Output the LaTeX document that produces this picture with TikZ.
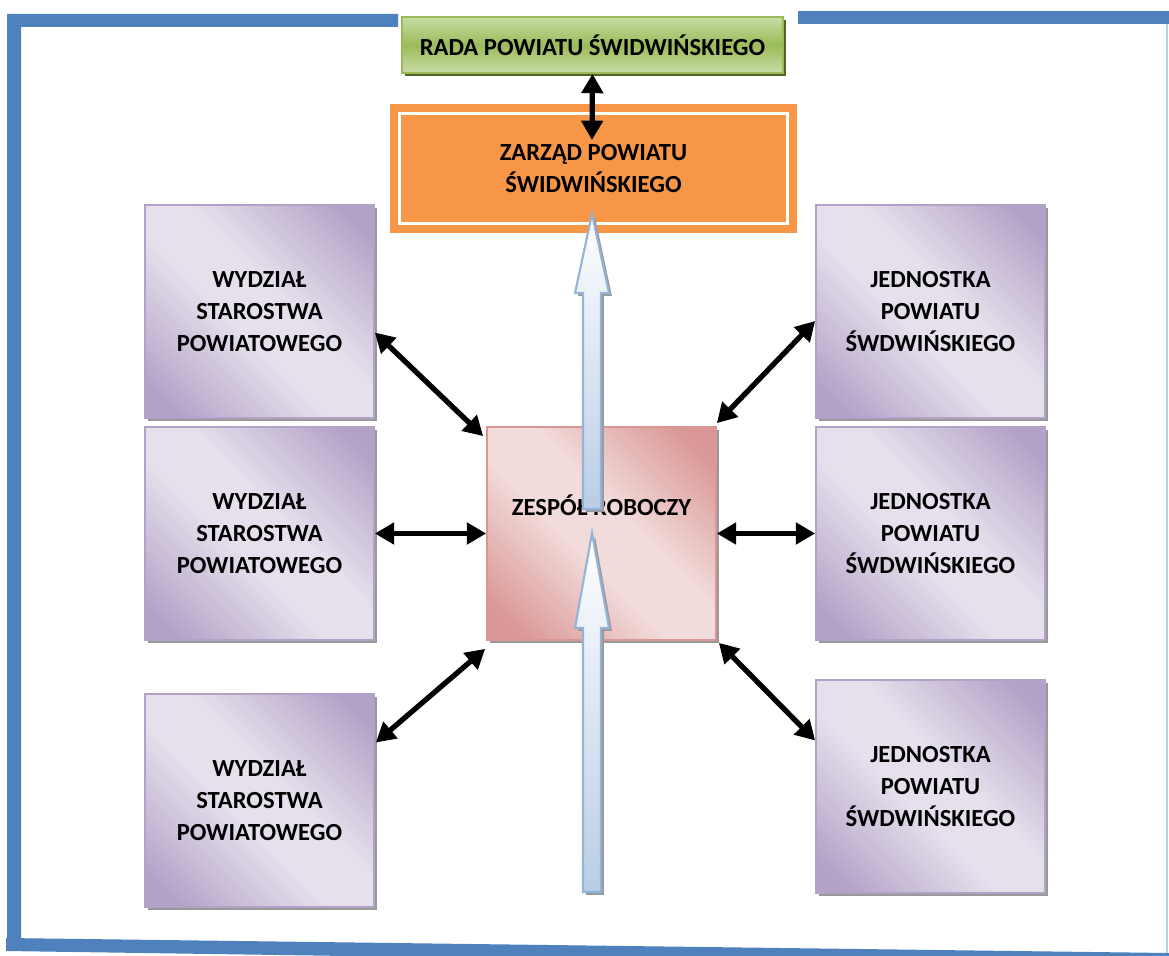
\documentclass[tikz,border=0pt]{standalone}
\usepackage{fontspec}
\setmainfont{Carlito}
\usepackage{tikz}
\usetikzlibrary{arrows.meta, shadows}

\definecolor{frameblue}{HTML}{4F81BD}
\definecolor{framelight}{HTML}{B9CDE5}
\definecolor{lilacdark}{HTML}{B3A2C7}
\definecolor{lilaclight}{HTML}{E5E0EC}
\definecolor{rosedark}{HTML}{D99694}
\definecolor{roselight}{HTML}{F2DCDB}
\definecolor{leafdark}{HTML}{9BBB59}
\definecolor{leaflight}{HTML}{C9DCA6}
\definecolor{leafshadow}{HTML}{4F6228}
\definecolor{boardorange}{HTML}{F79646}
\definecolor{arrowline}{HTML}{95B3D7}
\definecolor{arrowfill}{HTML}{B9CDE5}

\pgfdeclarehorizontalshading{lilacband}{100bp}{color(0bp)=(lilacdark); color(20bp)=(lilacdark); color(44bp)=(lilaclight); color(56bp)=(lilaclight); color(80bp)=(lilacdark); color(100bp)=(lilacdark)}
\pgfdeclarehorizontalshading{roseband}{100bp}{color(0bp)=(rosedark); color(20bp)=(rosedark); color(44bp)=(roselight); color(56bp)=(roselight); color(80bp)=(rosedark); color(100bp)=(rosedark)}

\begin{document}
\begin{tikzpicture}[x=0.02cm, y=-0.02cm]
	\useasboundingbox (0,0) rectangle (1169,956);
	\tikzstyle{label}=[font=\bfseries\fontsize{14}{18}\selectfont, align=center]
	\tikzstyle{unit}=[label, rectangle, minimum width=4.58cm, minimum height=4.26cm, draw=lilacdark, line width=1pt, shade, shading=lilacband, shading angle=45, drop shadow={shadow xshift=1.7pt, shadow yshift=-1.7pt, fill=black!40, opacity=1}]
	\tikzstyle{team}=[unit, draw=rosedark, shading=roseband]
	\tikzstyle{council}=[label, rectangle, minimum width=7.62cm, minimum height=1.12cm, draw=leafdark, line width=1pt, top color=leaflight, bottom color=leaflight, middle color=leafdark, drop shadow={shadow xshift=1.7pt, shadow yshift=-1.7pt, fill=leafshadow, opacity=1}]
	\tikzstyle{board}=[label, rectangle, minimum width=8.14cm, minimum height=2.58cm, fill=boardorange]
	\tikzstyle{link}=[<->, >={Triangle[length=11pt, width=12pt]}, line width=3pt, black]
	\fill[frameblue] (7,14) -- (398,14) -- (398,27) -- (21,27) -- (21,940) -- (7,944) -- cycle;
	\fill[frameblue] (798,11) rectangle (1169,24);
	\fill[frameblue] (6,938) -- (1169,953) -- (1169,968) -- (6,951) -- cycle;
	\draw[framelight, line width=1pt] (1167,24) -- (1167,953);
	\node[council] (rada) at (592.5,45) {RADA POWIATU ŚWIDWIŃSKIEGO};
	\node[board] (zarzad) at (593.5,168.5) {ZARZĄD POWIATU\\ŚWIDWIŃSKIEGO};
	\draw[white, line width=2pt] ([shift={(10,10)}]zarzad.north west) rectangle ([shift={(-10,-10)}]zarzad.south east);
	\foreach \i/\y in {1/311.5,2/533.5,3/800.5} {
	    \node[unit] (w\i) at (259.5,\y) {WYDZIAŁ\\STAROSTWA\\POWIATOWEGO};
	}
	\foreach \i/\y in {1/311.5,2/533.5,3/786.5} {
	    \node[unit] (j\i) at (930.5,\y) {JEDNOSTKA\\POWIATU\\ŚWDWIŃSKIEGO};
	}
	\node[team] (zespol) at (601.5,533.5) {};
	\node[label] (zespoltekst) at (601.5,505) {ZESPÓŁ ROBOCZY};
	\foreach \tip/\neck/\tail in {214/293/509,533/628/892} {
	    \draw[arrowline, line width=1.2pt, top color=white, bottom color=arrowfill, drop shadow={shadow xshift=1.7pt, shadow yshift=-1.7pt, fill=black!40, opacity=1}]
	        (592,\tip) -- (609,\neck) -- (601,\neck) -- (601,\tail) -- (583,\tail) -- (583,\neck) -- (575,\neck) -- cycle;
	}
	\coordinate (zarzadin) at (592,140);
	\path (rada.south) edge[link] (zarzadin);
	\path ([shift={(0,21)}]w1.east) edge[link] ([shift={(-3,10)}]zespol.north west);
	\path (w2) edge[link] (zespol);
	\path ([shift={(1,-58)}]w3.east) edge[link] ([shift={(-1,8)}]zespol.south west);
	\path ([shift={(0,-3)}]zespol.north east) edge[link] ([shift={(0,9.5)}]j1.west);
	\path (zespol) edge[link] (j2);
	\path ([shift={(2,2)}]zespol.south east) edge[link] ([shift={(0,-46)}]j3.west);
\end{tikzpicture}
\end{document}
